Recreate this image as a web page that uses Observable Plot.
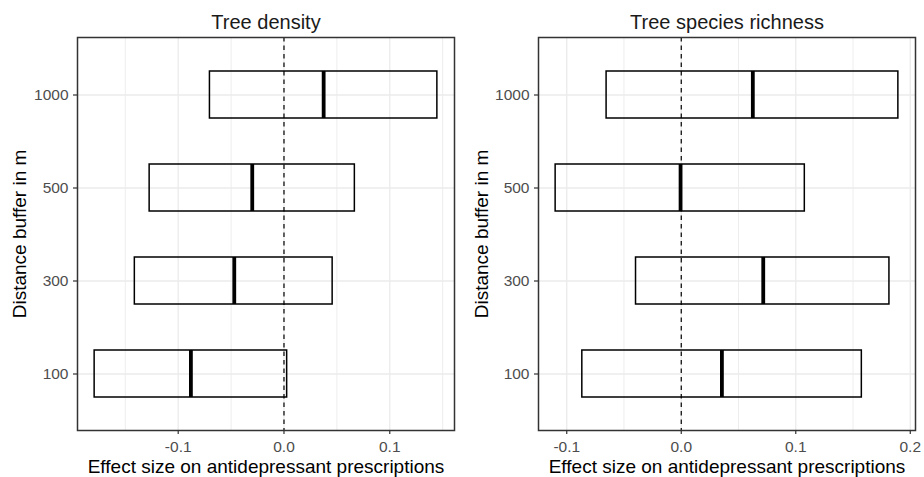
<!DOCTYPE html>
<html>
<head>
<meta charset="utf-8">
<script src="https://cdn.jsdelivr.net/npm/d3@7"></script>
<script src="https://cdn.jsdelivr.net/npm/@observablehq/plot@0.6"></script>
<style>
  html, body { margin: 0; padding: 0; background: #fff; }
  #wrap { display: flex; width: 924px; height: 477px; }
  svg { display: block; }
</style>
</head>
<body>
<div id="wrap"></div>
<script>
const distances = ["100", "300", "500", "1000"];
const distanceOrder = ["1000", "500", "300", "100"];

const densityEst   = [-0.088, -0.047, -0.030, 0.0375];
const densityLower = [-0.179, -0.141, -0.127, -0.070];
const densityUpper = [0.003, 0.046, 0.067, 0.145];

const richnessEst   = [0.0355, 0.0716, -0.0006, 0.0625];
const richnessLower = [-0.0864, -0.0395, -0.1097, -0.0652];
const richnessUpper = [0.1577, 0.1818, 0.1079, 0.1896];

const panelTitles = ["Tree density", "Tree species richness"];
const xLabel = "Effect size on antidepressant prescriptions";
const yLabel = "Distance buffer in m";

const densityTicks = [-0.1, 0, 0.1];
const densityMinor = [-0.15, -0.05, 0.05, 0.15];
const richnessTicks = [-0.1, 0, 0.1, 0.2];
const richnessMinor = [-0.05, 0.05, 0.15];

const FONT = "'Liberation Sans', Arial, Helvetica, sans-serif";

function panel(title, est, lower, upper, ticks, minor, ml, mr) {
  const rows = distances.map((d, i) => ({dist: d, est: est[i], lo: lower[i], hi: upper[i]}));
  const lo = d3.min(lower), hi = d3.max(upper);
  const pad = (hi - lo) * 0.05;
  return Plot.plot({
    width: 462,
    height: 477,
    marginLeft: ml,
    marginRight: mr,
    marginTop: 37,
    marginBottom: 47,
    style: {fontFamily: FONT, background: "white", overflow: "visible"},
    x: {domain: [lo - pad, hi + pad]},
    y: {type: "band", domain: distanceOrder, paddingInner: 0.5, paddingOuter: 0.35},
    marks: [
      Plot.gridX(minor, {stroke: "#ebebeb", strokeOpacity: 1, strokeWidth: 0.9}),
      Plot.gridX(ticks, {stroke: "#ebebeb", strokeOpacity: 1, strokeWidth: 1.3}),
      Plot.gridY({stroke: "#ebebeb", strokeOpacity: 1, strokeWidth: 1.3}),
      Plot.ruleX([0], {stroke: "black", strokeWidth: 1.2, strokeDasharray: "4.5,4"}),
      Plot.barX(rows, {x1: "lo", x2: "hi", y: "dist", fill: "none", stroke: "black", strokeWidth: 1.5}),
      Plot.tickX(rows, {x: "est", y: "dist", stroke: "black", strokeWidth: 3.8}),
      Plot.frame({stroke: "#333333", strokeWidth: 1.5}),
      Plot.axisX(ticks, {tickSize: 4, tickPadding: 6, tickFormat: d => d.toFixed(1),
        fontSize: 15.5, fill: "#4d4d4d", stroke: "#333333", strokeWidth: 1.2, label: null}),
      Plot.axisY({tickSize: 4, tickPadding: 5, fontSize: 15.5, fill: "#4d4d4d",
        stroke: "#333333", strokeWidth: 1.2, label: null}),
      Plot.text([title], {frameAnchor: "top", dy: -9, lineAnchor: "bottom",
        fontSize: 20, fill: "#1a1a1a"}),
      Plot.text([xLabel], {frameAnchor: "bottom", dy: 42, lineAnchor: "bottom",
        fontSize: 19, fill: "#000"}),
      Plot.text([yLabel], {frameAnchor: "left", dx: -(ml - 25), rotate: -90,
        textAnchor: "middle", lineAnchor: "bottom", fontSize: 19, fill: "#000"})
    ]
  });
}

const wrap = document.getElementById("wrap");
wrap.appendChild(panel(panelTitles[0], densityEst, densityLower, densityUpper,
  densityTicks, densityMinor, 77, 8));
wrap.appendChild(panel(panelTitles[1], richnessEst, richnessLower, richnessUpper,
  richnessTicks, richnessMinor, 76, 9));
</script>
</body>
</html>
